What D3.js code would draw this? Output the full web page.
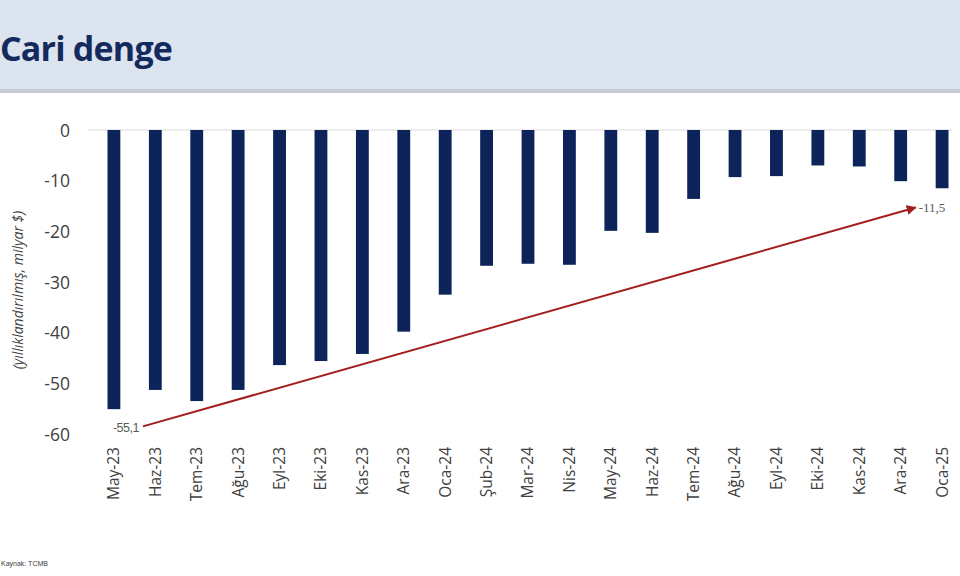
<!DOCTYPE html>
<html><head><meta charset="utf-8">
<script src="https://cdn.jsdelivr.net/npm/d3@7"></script>
<style>body{margin:0;background:#fff;}svg{display:block;}</style>
</head><body>
<script>
const categories = ["May-23","Haz-23","Tem-23","Ağu-23","Eyl-23","Eki-23","Kas-23","Ara-23","Oca-24","Şub-24","Mar-24","Nis-24","May-24","Haz-24","Tem-24","Ağu-24","Eyl-24","Eki-24","Kas-24","Ara-24","Oca-25"];
const values = [-55.1,-51.3,-53.5,-51.3,-46.4,-45.6,-44.2,-39.8,-32.5,-26.8,-26.4,-26.6,-19.9,-20.3,-13.6,-9.3,-9.1,-7.0,-7.2,-10.1,-11.5];
const yTicks = [0,-10,-20,-30,-40,-50,-60];
const trendStart = {label:"-55,1", value:-58.5, index:0};
const trendEnd = {label:"-11,5", value:-15.3, index:19};

const W=960,H=576;
const svg=d3.select("body").append("svg").attr("width",W).attr("height",H);
// header
svg.append("rect").attr("x",0).attr("y",0).attr("width",W).attr("height",89).attr("fill","#dce4f0");
svg.append("rect").attr("x",0).attr("y",89).attr("width",W).attr("height",4).attr("fill","#c6cbd5");
svg.append("text").attr("x",0).attr("y",61).text("Cari denge")
  .attr("font-family","Open Sans").attr("font-weight","bold").attr("font-size",34).attr("fill","#152a5c").attr("letter-spacing",-0.8);

const x=d3.scaleBand().domain(categories).range([93,963]).paddingInner(0.69).paddingOuter(0.35);
const y=d3.scaleLinear().domain([-60,0]).range([434,130]);

// zero line
svg.append("line").attr("x1",88).attr("x2",952).attr("y1",y(0)).attr("y2",y(0)).attr("stroke","#d9d9d9").attr("stroke-width",1);

// y axis
const yAxis=svg.append("g").attr("transform","translate(70,0)")
  .call(d3.axisLeft(y).tickValues(yTicks).tickSize(0).tickPadding(0).tickFormat(d=>d));
yAxis.select(".domain").remove();
yAxis.selectAll("text").attr("font-family","Open Sans").attr("font-size",17.5).attr("fill","#404040").attr("dy","0.35em");

// x axis
const xAxis=svg.append("g").attr("transform","translate(0,445)")
  .call(d3.axisBottom(x).tickSize(0).tickPadding(0));
xAxis.select(".domain").remove();
xAxis.selectAll("text").attr("font-family","Open Sans").attr("font-size",15.5).attr("fill","#404040")
  .attr("transform","rotate(-90)").attr("text-anchor","end").attr("x",-2).attr("y",0).attr("dy","0.35em");

// bars
svg.append("g").selectAll("rect").data(values).join("rect")
  .attr("x",(d,i)=>x(categories[i])).attr("width",x.bandwidth())
  .attr("y",y(0)).attr("height",d=>y(d)-y(0)).attr("fill","#0c2459");

// y title
svg.append("text").attr("transform","translate(23,290) rotate(-90)").attr("text-anchor","middle")
  .attr("font-family","Open Sans").attr("font-style","italic").attr("font-size",14).attr("fill","#404040")
  .text("(yıllıklandırılmış, milyar $)");

// arrow
const defs=svg.append("defs");
defs.append("marker").attr("id","ah").attr("viewBox","0 0 10 10").attr("refX",9).attr("refY",5)
  .attr("markerWidth",5).attr("markerHeight",5).attr("orient","auto")
  .append("path").attr("d","M0,0 L10,5 L0,10 z").attr("fill","#a31d1d");
const x1=x(categories[trendStart.index])+x.bandwidth()/2+29;
const x2=x(categories[trendEnd.index])+x.bandwidth()/2+15;
svg.append("line").attr("x1",x1).attr("y1",y(trendStart.value)).attr("x2",x2).attr("y2",y(trendEnd.value))
  .attr("stroke","#a31d1d").attr("stroke-width",2).attr("marker-end","url(#ah)");
svg.append("text").attr("x",x1-4).attr("y",y(trendStart.value)+1).attr("text-anchor","end").attr("dy","0.35em")
  .attr("font-family","Liberation Sans").attr("font-size",12.5).attr("fill","#595959").attr("letter-spacing",-0.5).text(trendStart.label);
svg.append("text").attr("x",x2+3).attr("y",y(trendEnd.value)).attr("dy","0.35em")
  .attr("font-family","Liberation Serif").attr("font-size",13).attr("fill","#595959").text(trendEnd.label);

// source
svg.append("text").attr("x",1).attr("y",566).attr("font-family","Liberation Sans").attr("font-size",7).attr("fill","#404040").text("Kaynak: TCMB");
</script>
</body></html>
